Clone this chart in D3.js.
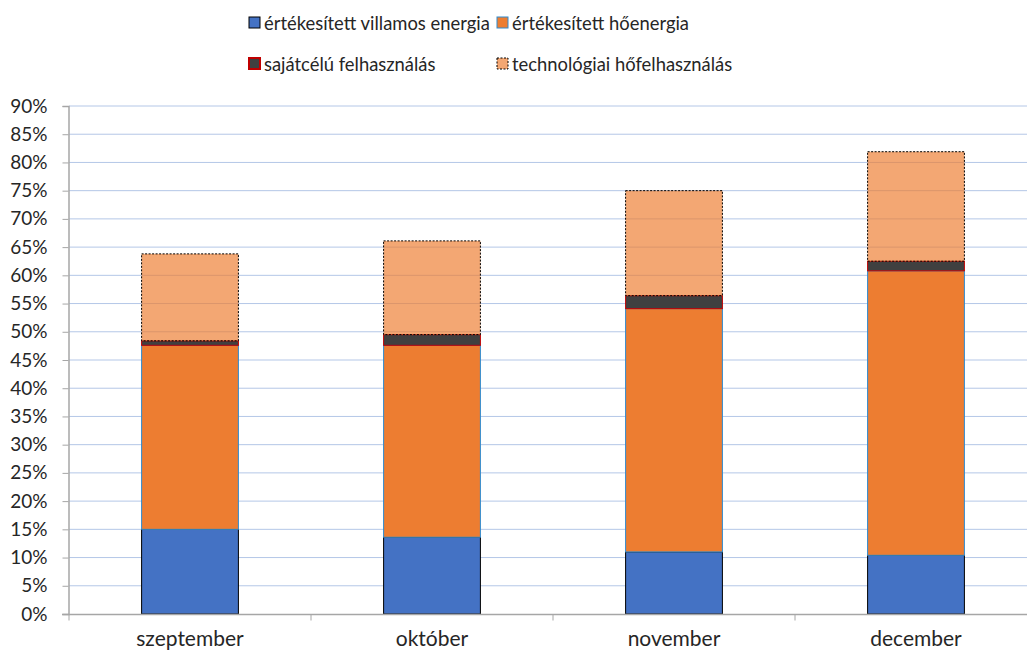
<!DOCTYPE html>
<html><head><meta charset="utf-8">
<script src="https://cdn.jsdelivr.net/npm/d3@7"></script>
<style>body{margin:0;background:#fff;} svg{display:block;}</style>
</head><body>
<svg id="c" width="1027" height="652"></svg>
<script>
const categories = ["szeptember","október","november","december"];
const villamos = [15.0, 13.6, 11.0, 10.4];
const hoenergia = [32.6, 34.0, 43.1, 50.4];
const sajatcelu = [0.8, 1.9, 2.3, 1.7];
const technologiai = [15.4, 16.6, 18.6, 19.4];
const seriesNames = ["értékesített villamos energia","értékesített hőenergia","sajátcélú felhasználás","technológiai hőfelhasználás"];
const yTicks = [0,5,10,15,20,25,30,35,40,45,50,55,60,65,70,75,80,85,90];

const font = "Lato, 'Open Sans', sans-serif";
const svg = d3.select("#c");
const x = d3.scaleBand().domain(categories).range([69, 1037]).paddingInner(0.6).paddingOuter(0.3);
const y = d3.scaleLinear().domain([0, 90]).range([614, 106]);

// gridlines
svg.append("g").selectAll("line").data(yTicks.slice(1)).join("line")
  .attr("x1", 69).attr("x2", 1027).attr("y1", d => y(d)).attr("y2", d => y(d))
  .attr("stroke", "#B4C7E7").attr("stroke-width", 1);

const styles = [
  {fill:"#4472C4", stroke:"#000", dash:null, op:1},
  {fill:"#ED7D31", stroke:"#2E8BD0", dash:null, op:1},
  {fill:"#404040", stroke:"#C00000", dash:null, op:1},
  {fill:"#ED7D31", stroke:"#000", dash:"2,1.5", op:0.68}
];
const data = categories.map((c,i) => ({cat:c, v:[villamos[i], hoenergia[i], sajatcelu[i], technologiai[i]]}));
const stack = d3.stack().keys([0,1,2,3]).value((d,k) => d.v[k]);
const layers = stack(data);

layers.forEach((layer, k) => {
  const st = styles[k];
  svg.append("g").selectAll("rect").data(layer).join("rect")
    .attr("x", d => x(d.data.cat))
    .attr("width", x.bandwidth())
    .attr("y", d => y(d[1]))
    .attr("height", d => y(d[0]) - y(d[1]))
    .attr("fill", st.fill).attr("fill-opacity", st.op)
    .attr("stroke", st.stroke).attr("stroke-width", 1)
    .attr("stroke-dasharray", st.dash);
});

// y axis
const yAxis = d3.axisLeft(y).tickValues(yTicks).tickFormat(d => d + "%").tickSize(6).tickPadding(15);
const ya = svg.append("g").attr("transform", "translate(68.5,0)").call(yAxis);
ya.select(".domain").attr("stroke", "#A6A6A6").attr("stroke-width", 1.5);
ya.selectAll(".tick line").attr("stroke", "#A6A6A6");
ya.selectAll("text").attr("font-family", font).attr("font-size", 19).attr("fill", "#262626");

// x axis
const xa = svg.append("g").attr("transform", "translate(0,614.5)");
xa.append("line").attr("x1", 62).attr("x2", 1027).attr("y1", 0).attr("y2", 0).attr("stroke", "#A6A6A6").attr("stroke-width", 1.5);
xa.selectAll("line.t").data(categories).join("line").attr("class","t")
  .attr("x1", d => x(d) - x.step()*0.3).attr("x2", d => x(d) - x.step()*0.3)
  .attr("y1", 0).attr("y2", 6).attr("stroke", "#A6A6A6");
xa.selectAll("text").data(categories).join("text")
  .attr("x", d => x(d) + x.bandwidth()/2).attr("y", 31.5)
  .attr("text-anchor", "middle").attr("font-family", font).attr("font-size", 21).attr("fill", "#262626")
  .text(d => d);

// legend
const legPos = [[249,23],[497,23],[249,64],[497,64]];
const lg = svg.append("g");
seriesNames.forEach((n,k) => {
  const [lx, ly] = legPos[k];
  const st = styles[k];
  lg.append("rect").attr("x", lx).attr("y", ly - 6).attr("width", 11).attr("height", 11)
    .attr("fill", st.fill).attr("fill-opacity", st.op).attr("stroke", st.stroke).attr("stroke-width", k===2?2:1)
    .attr("stroke-dasharray", st.dash);
  lg.append("text").attr("x", lx + 15).attr("y", ly + 7).attr("font-family", font).attr("font-size", 18.4)
    .attr("fill", "#262626").text(n);
});
</script>
</body></html>
